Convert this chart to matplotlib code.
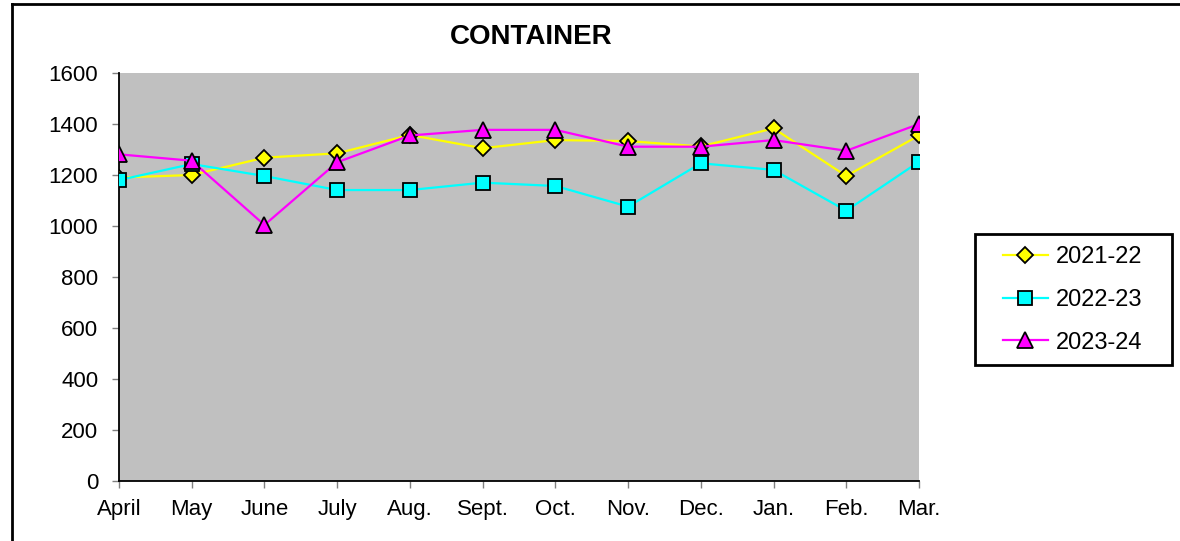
import matplotlib
matplotlib.use("Agg")
import matplotlib.pyplot as plt
from matplotlib.lines import Line2D
from matplotlib.patches import Rectangle

months = ['April', 'May', 'June', 'July', 'Aug.', 'Sept.', 'Oct.', 'Nov.',
          'Dec.', 'Jan.', 'Feb.', 'Mar.']
fy_2021_22 = [1190, 1200, 1268, 1285, 1357, 1305, 1337, 1333, 1312, 1383, 1196, 1355]
fy_2022_23 = [1180, 1243, 1196, 1141, 1141, 1170, 1157, 1076, 1246, 1220, 1060, 1252]
fy_2023_24 = [1281, 1256, 1004, 1250, 1355, 1377, 1377, 1311, 1311, 1337, 1295, 1400]

plt.rcParams['font.family'] = ['Liberation Sans', 'DejaVu Sans']

fig = plt.figure(figsize=(11.8, 5.41), dpi=100)
ax = fig.add_axes([119 / 1180, 1 - 481 / 541, 800 / 1180, 408 / 541])
ax.set_facecolor('#C0C0C0')

x = list(range(len(months)))
ax.plot(x, fy_2021_22, color='#FFFF00', lw=1.6, marker='D', markersize=8.5,
        markerfacecolor='#FFFF00', markeredgecolor='black', markeredgewidth=1.3,
        label='2021-22', zorder=3)
ax.plot(x, fy_2022_23, color='#00FFFF', lw=1.6, marker='s', markersize=10.5,
        markerfacecolor='#00FFFF', markeredgecolor='black', markeredgewidth=1.3,
        label='2022-23', zorder=3)
ax.plot(x, fy_2023_24, color='#FF00FF', lw=1.6, marker='^', markersize=11.5,
        markerfacecolor='#FF00FF', markeredgecolor='black', markeredgewidth=1.3,
        label='2023-24', zorder=4)

ax.set_xlim(0, 11)
ax.set_ylim(0, 1600)
ax.set_yticks(range(0, 1601, 200))
ax.set_xticks(x)
ax.set_xticklabels(months)
ax.tick_params(axis='both', labelsize=16, colors='#808080', length=5, width=1,
               labelcolor='black')
ax.tick_params(axis='x', pad=8)
ax.tick_params(axis='y', pad=10)

for side in ['top', 'right']:
    ax.spines[side].set_visible(False)
for side in ['left', 'bottom']:
    ax.spines[side].set_linewidth(1.3)
    ax.spines[side].set_color('black')
ax.spines['bottom'].set_zorder(5)

fig.text(531 / 1180, 1 - 37 / 541, 'CONTAINER', ha='center', va='center',
         fontsize=20, fontweight='bold')

# legend contents, with its own box drawn around it
fig.legend(loc='center left', bbox_to_anchor=(1003 / 1180, 1 - 300 / 541),
           fontsize=17, frameon=False, handlelength=1.9, handletextpad=0.35,
           labelspacing=0.87, borderpad=0, borderaxespad=0)
fig.add_artist(Rectangle((975 / 1180, 1 - 365 / 541), 197 / 1180, 131 / 541,
                         fill=False, edgecolor='black', lw=2,
                         transform=fig.transFigure))

# outer chart border (left and top edges visible)
fig.add_artist(Line2D([12 / 1180, 12 / 1180], [0, 1 - 4 / 541], color='black',
                      lw=2, transform=fig.transFigure))
fig.add_artist(Line2D([12 / 1180, 1], [1 - 4 / 541, 1 - 4 / 541], color='black',
                      lw=2, transform=fig.transFigure))

fig.savefig('out.png', dpi=100)
